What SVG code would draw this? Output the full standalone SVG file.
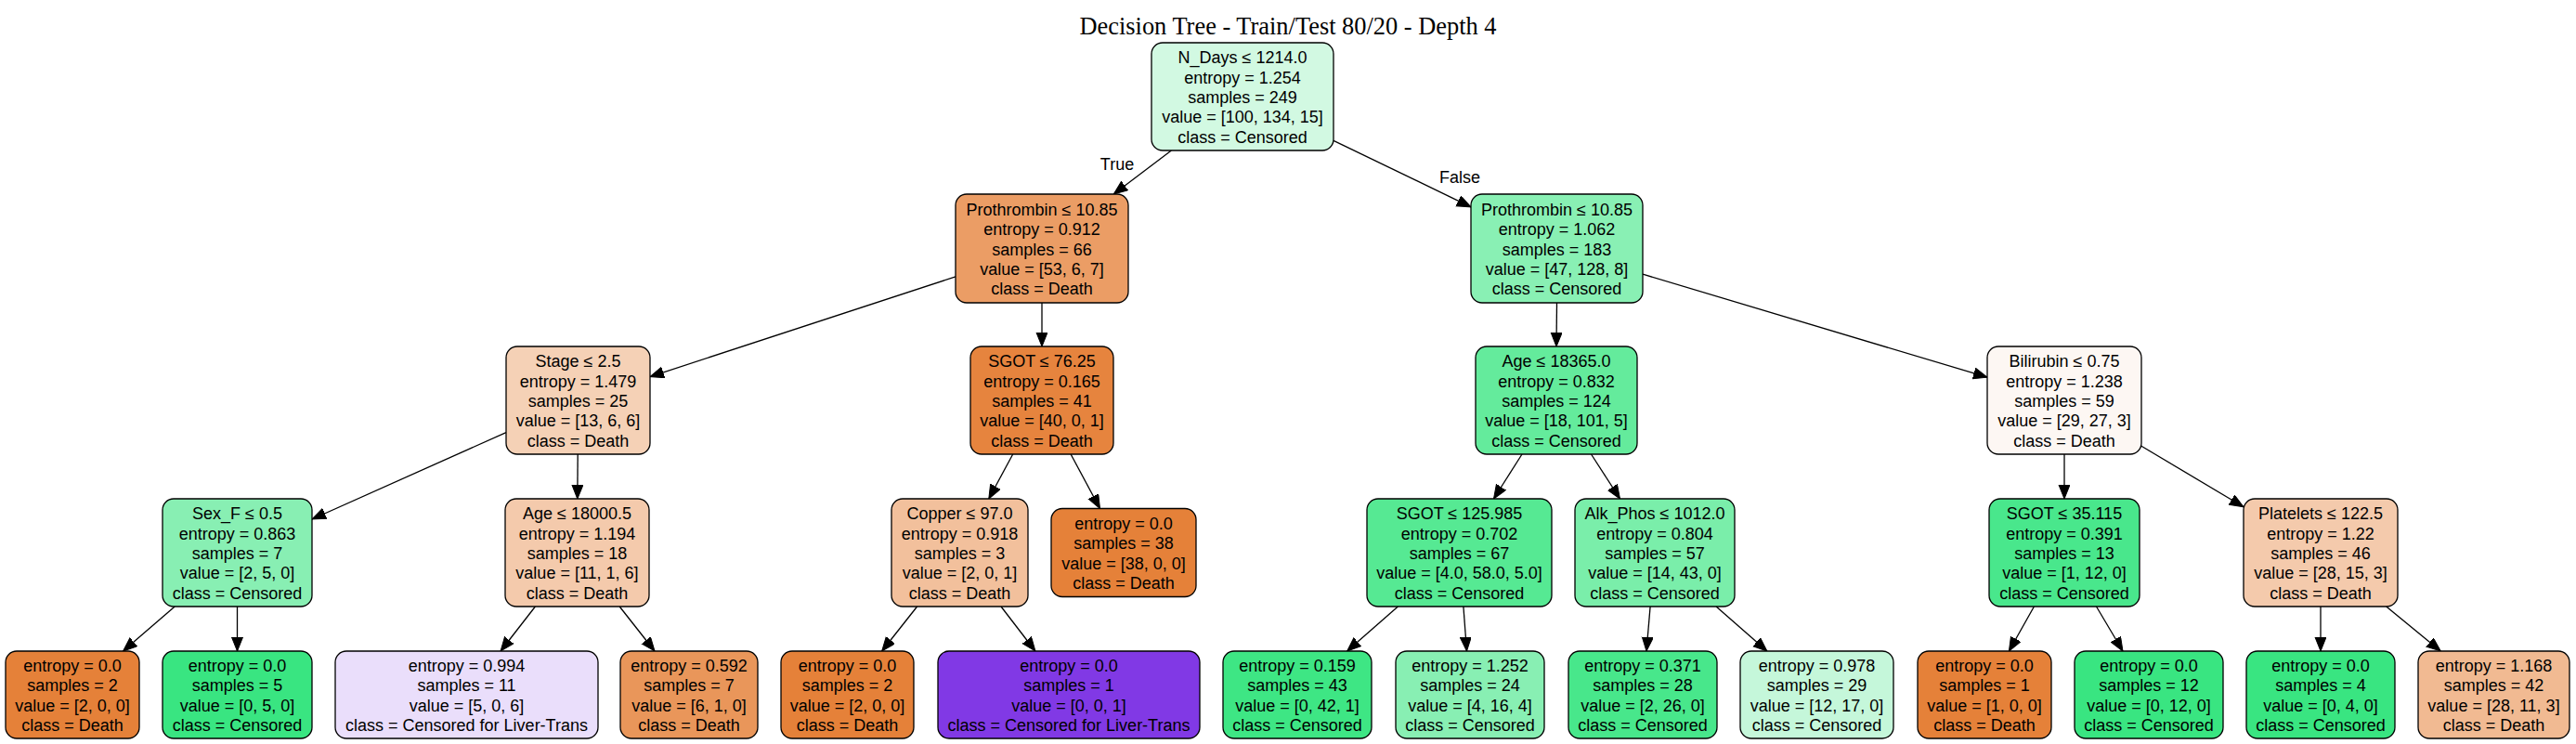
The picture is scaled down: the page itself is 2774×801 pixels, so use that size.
<svg xmlns="http://www.w3.org/2000/svg" width="2774" height="801" viewBox="0 0 2774 801">
<style>
.bg{fill:#ffffff}
.node rect{stroke:#000000;stroke-width:1.3}
.node text{font-family:"Liberation Sans",Arial,sans-serif;font-size:18px;text-anchor:middle;fill:#000000}
.title{font-family:"Liberation Serif","Times New Roman",serif;font-size:26.4px;text-anchor:middle;fill:#000000}
.elabel{font-family:"Liberation Sans",Arial,sans-serif;font-size:18px;text-anchor:middle;fill:#000000}
#edges line{stroke:#000000;stroke-width:1.3;fill:none;marker-end:url(#ah)}
</style>
<defs>
<marker id="ah" markerUnits="userSpaceOnUse" markerWidth="16" markerHeight="13" refX="15" refY="6" orient="auto" viewBox="0 0 16 13">
<path d="M0,0 L15,6 L0,12 z" fill="#000000" stroke="#000000" stroke-width="1"/>
</marker>
</defs>
<rect class="bg" x="0" y="0" width="2774" height="801"/>
<text class="title" x="1387" y="37">Decision Tree - Train/Test 80/20 - Depth 4</text>

<g id="edges">
<line x1="1261.4" y1="162" x2="1199.3" y2="209"/>
<line x1="1436" y1="151.3" x2="1584" y2="222.8"/>
<line x1="1029" y1="297.9" x2="700" y2="405.6"/>
<line x1="1122" y1="326" x2="1122" y2="373"/>
<line x1="545" y1="465.6" x2="336" y2="559"/>
<line x1="622.2" y1="489" x2="621.8" y2="537"/>
<line x1="188.2" y1="653" x2="132.5" y2="701"/>
<line x1="255.5" y1="653" x2="255.5" y2="701"/>
<line x1="576.4" y1="653" x2="539.1" y2="701"/>
<line x1="667.2" y1="653" x2="705" y2="701"/>
<line x1="1090.7" y1="489" x2="1064.8" y2="537"/>
<line x1="1153.1" y1="489" x2="1184.5" y2="547.5"/>
<line x1="987.6" y1="653" x2="949.7" y2="701"/>
<line x1="1078" y1="653" x2="1114.9" y2="701"/>
<line x1="1676.5" y1="326" x2="1676" y2="373"/>
<line x1="1769" y1="295.2" x2="2140" y2="406.2"/>
<line x1="1639" y1="489" x2="1608.5" y2="537"/>
<line x1="1713.5" y1="489" x2="1744.5" y2="537"/>
<line x1="1505.4" y1="653" x2="1450.6" y2="701"/>
<line x1="1575.9" y1="653" x2="1579.5" y2="701"/>
<line x1="1777.1" y1="653" x2="1773" y2="701"/>
<line x1="1848.1" y1="653" x2="1902.9" y2="701"/>
<line x1="2223" y1="489" x2="2223" y2="537"/>
<line x1="2306" y1="480.3" x2="2416" y2="545.7"/>
<line x1="2190.4" y1="653" x2="2163.4" y2="701"/>
<line x1="2257.5" y1="653" x2="2286" y2="701"/>
<line x1="2499" y1="653" x2="2499" y2="701"/>
<line x1="2569.7" y1="653" x2="2628.2" y2="701"/>
<text class="elabel" x="1203" y="183">True</text>
<text class="elabel" x="1572" y="197">False</text>
</g>

<g id="node0" class="node"><rect x="1240" y="46" width="196" height="116" rx="12" fill="#d2f9e2"/>
<text><tspan x="1338" y="68.4">N_Days ≤ 1214.0</tspan><tspan x="1338" y="89.7">entropy = 1.254</tspan><tspan x="1338" y="111">samples = 249</tspan><tspan x="1338" y="132.3">value = [100, 134, 15]</tspan><tspan x="1338" y="153.6">class = Censored</tspan></text></g>

<g id="node1" class="node"><rect x="1029" y="209" width="186" height="117" rx="12" fill="#eb9d65"/>
<text><tspan x="1122" y="231.9">Prothrombin ≤ 10.85</tspan><tspan x="1122" y="253.2">entropy = 0.912</tspan><tspan x="1122" y="274.5">samples = 66</tspan><tspan x="1122" y="295.8">value = [53, 6, 7]</tspan><tspan x="1122" y="317.1">class = Death</tspan></text></g>

<g id="node14" class="node"><rect x="1584" y="209" width="185" height="117" rx="12" fill="#89f0b4"/>
<text><tspan x="1676.5" y="231.9">Prothrombin ≤ 10.85</tspan><tspan x="1676.5" y="253.2">entropy = 1.062</tspan><tspan x="1676.5" y="274.5">samples = 183</tspan><tspan x="1676.5" y="295.8">value = [47, 128, 8]</tspan><tspan x="1676.5" y="317.1">class = Censored</tspan></text></g>

<g id="node2" class="node"><rect x="545" y="373" width="155" height="116" rx="12" fill="#f5d1b6"/>
<text><tspan x="622.5" y="395.4">Stage ≤ 2.5</tspan><tspan x="622.5" y="416.7">entropy = 1.479</tspan><tspan x="622.5" y="438">samples = 25</tspan><tspan x="622.5" y="459.3">value = [13, 6, 6]</tspan><tspan x="622.5" y="480.6">class = Death</tspan></text></g>

<g id="node9" class="node"><rect x="1045" y="373" width="154" height="116" rx="12" fill="#e6843e"/>
<text><tspan x="1122" y="395.4">SGOT ≤ 76.25</tspan><tspan x="1122" y="416.7">entropy = 0.165</tspan><tspan x="1122" y="438">samples = 41</tspan><tspan x="1122" y="459.3">value = [40, 0, 1]</tspan><tspan x="1122" y="480.6">class = Death</tspan></text></g>

<g id="node15" class="node"><rect x="1589" y="373" width="174" height="116" rx="12" fill="#64eb9c"/>
<text><tspan x="1676" y="395.4">Age ≤ 18365.0</tspan><tspan x="1676" y="416.7">entropy = 0.832</tspan><tspan x="1676" y="438">samples = 124</tspan><tspan x="1676" y="459.3">value = [18, 101, 5]</tspan><tspan x="1676" y="480.6">class = Censored</tspan></text></g>

<g id="node22" class="node"><rect x="2140" y="373" width="166" height="116" rx="12" fill="#fdf7f3"/>
<text><tspan x="2223" y="395.4">Bilirubin ≤ 0.75</tspan><tspan x="2223" y="416.7">entropy = 1.238</tspan><tspan x="2223" y="438">samples = 59</tspan><tspan x="2223" y="459.3">value = [29, 27, 3]</tspan><tspan x="2223" y="480.6">class = Death</tspan></text></g>

<g id="node3" class="node"><rect x="175" y="537" width="161" height="116" rx="12" fill="#88efb3"/>
<text><tspan x="255.5" y="559.4">Sex_F ≤ 0.5</tspan><tspan x="255.5" y="580.7">entropy = 0.863</tspan><tspan x="255.5" y="602">samples = 7</tspan><tspan x="255.5" y="623.3">value = [2, 5, 0]</tspan><tspan x="255.5" y="644.6">class = Censored</tspan></text></g>

<g id="node6" class="node"><rect x="544" y="537" width="155" height="116" rx="12" fill="#f4caac"/>
<text><tspan x="621.5" y="559.4">Age ≤ 18000.5</tspan><tspan x="621.5" y="580.7">entropy = 1.194</tspan><tspan x="621.5" y="602">samples = 18</tspan><tspan x="621.5" y="623.3">value = [11, 1, 6]</tspan><tspan x="621.5" y="644.6">class = Death</tspan></text></g>

<g id="node10" class="node"><rect x="960" y="537" width="147" height="116" rx="12" fill="#f2c09c"/>
<text><tspan x="1033.5" y="559.4">Copper ≤ 97.0</tspan><tspan x="1033.5" y="580.7">entropy = 0.918</tspan><tspan x="1033.5" y="602">samples = 3</tspan><tspan x="1033.5" y="623.3">value = [2, 0, 1]</tspan><tspan x="1033.5" y="644.6">class = Death</tspan></text></g>

<g id="node13" class="node"><rect x="1132" y="547.5" width="156" height="95" rx="12" fill="#e58139"/>
<text><tspan x="1210" y="570.1">entropy = 0.0</tspan><tspan x="1210" y="591.4">samples = 38</tspan><tspan x="1210" y="612.7">value = [38, 0, 0]</tspan><tspan x="1210" y="634">class = Death</tspan></text></g>

<g id="node16" class="node"><rect x="1472" y="537" width="199" height="116" rx="12" fill="#56e993"/>
<text><tspan x="1571.5" y="559.4">SGOT ≤ 125.985</tspan><tspan x="1571.5" y="580.7">entropy = 0.702</tspan><tspan x="1571.5" y="602">samples = 67</tspan><tspan x="1571.5" y="623.3">value = [4.0, 58.0, 5.0]</tspan><tspan x="1571.5" y="644.6">class = Censored</tspan></text></g>

<g id="node19" class="node"><rect x="1696" y="537" width="172" height="116" rx="12" fill="#7aeeaa"/>
<text><tspan x="1782" y="559.4">Alk_Phos ≤ 1012.0</tspan><tspan x="1782" y="580.7">entropy = 0.804</tspan><tspan x="1782" y="602">samples = 57</tspan><tspan x="1782" y="623.3">value = [14, 43, 0]</tspan><tspan x="1782" y="644.6">class = Censored</tspan></text></g>

<g id="node23" class="node"><rect x="2142" y="537" width="162" height="116" rx="12" fill="#49e78c"/>
<text><tspan x="2223" y="559.4">SGOT ≤ 35.115</tspan><tspan x="2223" y="580.7">entropy = 0.391</tspan><tspan x="2223" y="602">samples = 13</tspan><tspan x="2223" y="623.3">value = [1, 12, 0]</tspan><tspan x="2223" y="644.6">class = Censored</tspan></text></g>

<g id="node26" class="node"><rect x="2416" y="537" width="166" height="116" rx="12" fill="#f4caac"/>
<text><tspan x="2499" y="559.4">Platelets ≤ 122.5</tspan><tspan x="2499" y="580.7">entropy = 1.22</tspan><tspan x="2499" y="602">samples = 46</tspan><tspan x="2499" y="623.3">value = [28, 15, 3]</tspan><tspan x="2499" y="644.6">class = Death</tspan></text></g>

<g id="node4" class="node"><rect x="6" y="701" width="144" height="94" rx="12" fill="#e58139"/>
<text><tspan x="78" y="723">entropy = 0.0</tspan><tspan x="78" y="744.4">samples = 2</tspan><tspan x="78" y="765.7">value = [2, 0, 0]</tspan><tspan x="78" y="787">class = Death</tspan></text></g>

<g id="node5" class="node"><rect x="175" y="701" width="161" height="94" rx="12" fill="#39e581"/>
<text><tspan x="255.5" y="723">entropy = 0.0</tspan><tspan x="255.5" y="744.4">samples = 5</tspan><tspan x="255.5" y="765.7">value = [0, 5, 0]</tspan><tspan x="255.5" y="787">class = Censored</tspan></text></g>

<g id="node7" class="node"><rect x="361" y="701" width="283" height="94" rx="12" fill="#eadefb"/>
<text><tspan x="502.5" y="723">entropy = 0.994</tspan><tspan x="502.5" y="744.4">samples = 11</tspan><tspan x="502.5" y="765.7">value = [5, 0, 6]</tspan><tspan x="502.5" y="787">class = Censored for Liver-Trans</tspan></text></g>

<g id="node8" class="node"><rect x="668" y="701" width="148" height="94" rx="12" fill="#e9965a"/>
<text><tspan x="742" y="723">entropy = 0.592</tspan><tspan x="742" y="744.4">samples = 7</tspan><tspan x="742" y="765.7">value = [6, 1, 0]</tspan><tspan x="742" y="787">class = Death</tspan></text></g>

<g id="node11" class="node"><rect x="841" y="701" width="143" height="94" rx="12" fill="#e58139"/>
<text><tspan x="912.5" y="723">entropy = 0.0</tspan><tspan x="912.5" y="744.4">samples = 2</tspan><tspan x="912.5" y="765.7">value = [2, 0, 0]</tspan><tspan x="912.5" y="787">class = Death</tspan></text></g>

<g id="node12" class="node"><rect x="1010" y="701" width="282" height="94" rx="12" fill="#8139e5"/>
<text><tspan x="1151" y="723">entropy = 0.0</tspan><tspan x="1151" y="744.4">samples = 1</tspan><tspan x="1151" y="765.7">value = [0, 0, 1]</tspan><tspan x="1151" y="787">class = Censored for Liver-Trans</tspan></text></g>

<g id="node17" class="node"><rect x="1317" y="701" width="160" height="94" rx="12" fill="#3ee684"/>
<text><tspan x="1397" y="723">entropy = 0.159</tspan><tspan x="1397" y="744.4">samples = 43</tspan><tspan x="1397" y="765.7">value = [0, 42, 1]</tspan><tspan x="1397" y="787">class = Censored</tspan></text></g>

<g id="node18" class="node"><rect x="1503" y="701" width="160" height="94" rx="12" fill="#88efb3"/>
<text><tspan x="1583" y="723">entropy = 1.252</tspan><tspan x="1583" y="744.4">samples = 24</tspan><tspan x="1583" y="765.7">value = [4, 16, 4]</tspan><tspan x="1583" y="787">class = Censored</tspan></text></g>

<g id="node20" class="node"><rect x="1689" y="701" width="160" height="94" rx="12" fill="#48e78b"/>
<text><tspan x="1769" y="723">entropy = 0.371</tspan><tspan x="1769" y="744.4">samples = 28</tspan><tspan x="1769" y="765.7">value = [2, 26, 0]</tspan><tspan x="1769" y="787">class = Censored</tspan></text></g>

<g id="node21" class="node"><rect x="1874" y="701" width="165" height="94" rx="12" fill="#c5f7da"/>
<text><tspan x="1956.5" y="723">entropy = 0.978</tspan><tspan x="1956.5" y="744.4">samples = 29</tspan><tspan x="1956.5" y="765.7">value = [12, 17, 0]</tspan><tspan x="1956.5" y="787">class = Censored</tspan></text></g>

<g id="node24" class="node"><rect x="2065" y="701" width="144" height="94" rx="12" fill="#e58139"/>
<text><tspan x="2137" y="723">entropy = 0.0</tspan><tspan x="2137" y="744.4">samples = 1</tspan><tspan x="2137" y="765.7">value = [1, 0, 0]</tspan><tspan x="2137" y="787">class = Death</tspan></text></g>

<g id="node25" class="node"><rect x="2234" y="701" width="160" height="94" rx="12" fill="#39e581"/>
<text><tspan x="2314" y="723">entropy = 0.0</tspan><tspan x="2314" y="744.4">samples = 12</tspan><tspan x="2314" y="765.7">value = [0, 12, 0]</tspan><tspan x="2314" y="787">class = Censored</tspan></text></g>

<g id="node27" class="node"><rect x="2419" y="701" width="160" height="94" rx="12" fill="#39e581"/>
<text><tspan x="2499" y="723">entropy = 0.0</tspan><tspan x="2499" y="744.4">samples = 4</tspan><tspan x="2499" y="765.7">value = [0, 4, 0]</tspan><tspan x="2499" y="787">class = Censored</tspan></text></g>

<g id="node28" class="node"><rect x="2604" y="701" width="163" height="94" rx="12" fill="#f1ba92"/>
<text><tspan x="2685.5" y="723">entropy = 1.168</tspan><tspan x="2685.5" y="744.4">samples = 42</tspan><tspan x="2685.5" y="765.7">value = [28, 11, 3]</tspan><tspan x="2685.5" y="787">class = Death</tspan></text></g>
</svg>
